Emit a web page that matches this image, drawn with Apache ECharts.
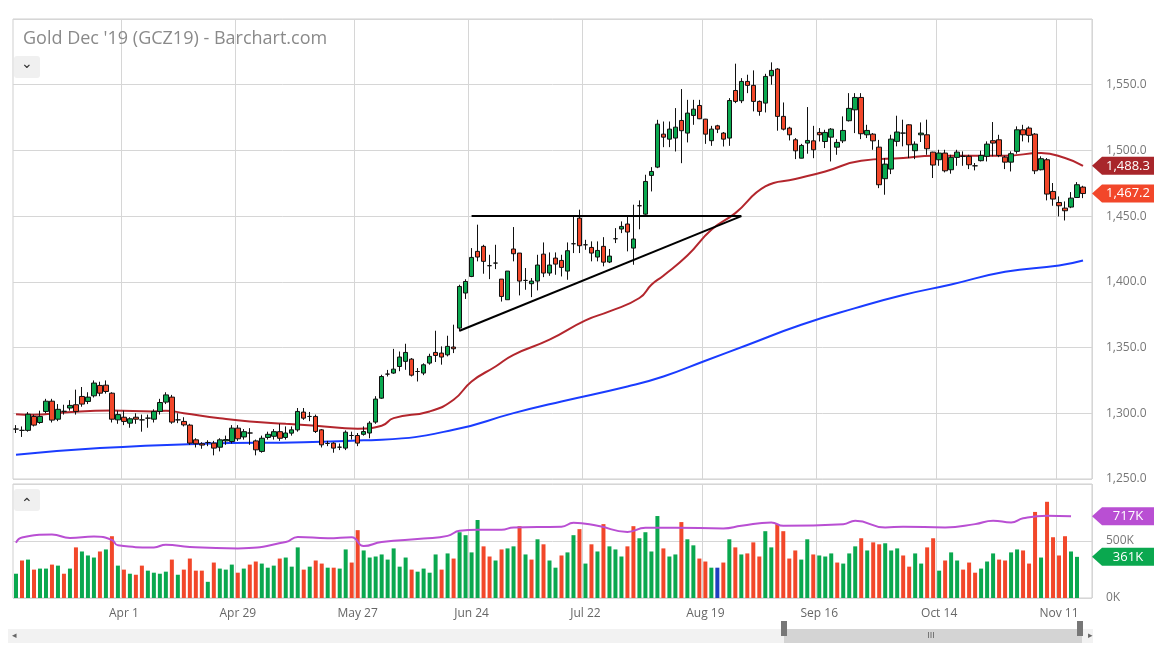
<!DOCTYPE html>
<html><head><meta charset="utf-8">
<script src="https://cdn.jsdelivr.net/npm/echarts@6/dist/echarts.min.js"></script>
<style>html,body{margin:0;padding:0;background:#fff}#c{width:1164px;height:647px}</style>
</head><body><div id="c"></div>
<script>
// ---- data ----
const startDate = "2019-03-06", endDate = "2019-11-18";
const holidays = ["2019-04-19","2019-05-27","2019-07-04","2019-09-02"];
const tickLabels = {"2019-04-01":"Apr 1","2019-04-29":"Apr 29","2019-05-28":"May 27","2019-06-24":"Jun 24","2019-07-22":"Jul 22","2019-08-19":"Aug 19","2019-09-16":"Sep 16","2019-10-14":"Oct 14","2019-11-11":"Nov 11"};
const priceTicks = [1250,1300,1350,1400,1450,1500,1550];

const opens = [1288,1287,1287,1297.6,1293,1301.4,1309.2,1295.5,1301.5,1304,1306.5,1312.8,1309,1313.3,1321.2,1321.4,1315.3,1295,1297,1292.5,1297,1295,1296.3,1295.5,1301.4,1308.5,1312.3,1295,1293.8,1291,1279.8,1276.8,1277.8,1277.3,1274.2,1279,1278.5,1288.7,1282,1285,1279,1271,1281.6,1282.5,1286,1281.6,1284.9,1287.4,1300.9,1297.6,1297.6,1287.4,1277,1277.3,1274.2,1273.5,1283.1,1283.1,1284,1285,1293.3,1311.5,1329.8,1330.6,1335.6,1339.5,1341.2,1331.8,1330.6,1338.2,1346.3,1345.8,1344.5,1350.4,1364.8,1391.5,1404.1,1423.2,1427,1412.3,1414.3,1402.1,1386.4,1425,1421.9,1401.1,1398.6,1400.6,1421.1,1406.7,1418.1,1416.3,1408.2,1429,1448.5,1428.2,1426.2,1418.9,1427,1415.1,1432.8,1440.2,1444,1425.7,1457.9,1451.5,1481,1487.3,1512.4,1508.6,1509.4,1522.8,1513.2,1526.6,1534.2,1523.8,1507.4,1518.7,1513.2,1509.4,1545.6,1537.8,1552.5,1549.5,1537.3,1536,1556.8,1561.9,1525.9,1517,1508.1,1494.1,1505.6,1507.3,1513.7,1506.8,1510.1,1502.5,1507.3,1522.6,1530.9,1540.3,1511.9,1512.4,1502.5,1478.5,1485.8,1506.9,1513.2,1519.5,1499.8,1511.9,1511.9,1498.7,1492.9,1498,1485.3,1494.7,1495.5,1495.5,1488.3,1492.2,1495.5,1507.4,1508.1,1494.9,1491.1,1499.3,1515.7,1517,1512.4,1485.3,1492.9,1468.8,1460.4,1456.1,1456.9,1464.2,1472.1];
const closes = [1288,1287,1299.3,1291,1297.6,1309.2,1294.8,1303,1301.5,1306,1301.4,1307,1312.3,1323,1315.3,1316.6,1295.5,1299,1293.8,1295.8,1295.5,1295,1296.3,1301.4,1308.2,1314,1293.3,1295,1291.2,1277.3,1276.8,1275.8,1277.8,1273.5,1279.8,1280,1288.7,1280.6,1286,1285,1272.2,1281,1284,1286,1281,1285,1287.4,1301.4,1296.3,1297.6,1286.2,1276,1277,1273.5,1274.2,1285.6,1283.1,1277.3,1286.1,1292.5,1310.8,1328,1329.8,1333.6,1342.8,1346.3,1329,1331.8,1336.9,1343.3,1344,1342.8,1350.9,1349.1,1396.5,1400.3,1418.6,1418.9,1415.6,1412.3,1414.3,1388.9,1408.2,1421.4,1400.6,1401.1,1400.6,1412.8,1406.7,1412.8,1413.5,1411,1423.7,1429,1427.5,1428.2,1421.9,1423.9,1415,1419.6,1432.8,1442.2,1437.9,1432.6,1457.9,1476.4,1484,1520,1510.1,1516.2,1517.7,1515,1528.4,1531.4,1524.1,1512.4,1516.2,1516.2,1508.6,1538,1537.3,1552.5,1549.5,1537.3,1529.7,1556.3,1560.9,1525.9,1516.2,1511.9,1499.7,1503.8,1507.6,1500.5,1511.9,1513.7,1516.2,1506.1,1515.2,1532,1540.3,1512.7,1515.2,1507.3,1473.9,1489.6,1508.6,1514,1513.2,1504.3,1504.8,1513.2,1501.3,1488.9,1498,1484.5,1494.7,1498.7,1495.5,1489.1,1488.3,1496.2,1504.8,1505.6,1496.2,1491.1,1497.5,1515.7,1511.9,1511.5,1484.5,1493.7,1466.8,1463,1457.9,1454.1,1463.7,1473.9,1467.2];
const lows = [1285,1282,1286,1290,1292,1300,1293,1294,1299,1302,1299,1305,1307,1312,1313,1315,1293,1292,1291,1289,1292,1286,1289,1293,1299,1307,1292,1292.5,1290,1276,1274,1273,1275,1268,1271,1276,1277,1279,1280,1276,1268,1270,1280,1280,1279,1280,1283,1286,1295,1294,1285,1274,1275,1270,1272,1272,1280,1275,1283,1281,1292,1311,1328,1330,1332,1333.1,1328,1324.2,1329,1337,1339,1337,1343.3,1345.8,1362.3,1387,1403.6,1415.6,1406.2,1402.1,1409.7,1385,1386.4,1415.6,1389.7,1394,1388.4,1393.5,1403.6,1404.6,1405.4,1404.1,1401.6,1421.9,1421.9,1424.4,1415.6,1415.6,1411.8,1414.3,1429.5,1437.1,1423.2,1413,1440,1451,1468.8,1486.5,1502.5,1502.5,1499.2,1490.3,1506.1,1519.5,1523.8,1505,1503.5,1513.2,1503,1503.5,1536,1536,1543.6,1529.7,1526.4,1528.9,1550,1515,1515.2,1507.6,1493.4,1494,1497.5,1494.1,1506.8,1501.8,1491.6,1496.7,1505.6,1522,1513.2,1508.6,1509.4,1500.5,1471.3,1466.3,1482,1503.1,1503.1,1494.2,1493.4,1506.4,1496.7,1479,1488.3,1483.3,1482.3,1488.3,1488.3,1485.8,1484.8,1491.6,1491.6,1495.5,1494.9,1485.8,1484,1497.5,1506.9,1506.1,1482,1484.8,1462,1457.9,1449.8,1446.7,1456.1,1464.2,1463.7];
const highs = [1291,1290,1300.9,1299,1302,1311,1311,1307,1306.5,1310,1318,1320,1316,1325,1324,1325,1316,1302,1302,1297,1300,1299,1299,1303,1311,1316,1314,1300,1297,1292,1281,1278,1279.5,1279,1281,1283,1291,1291,1288,1288.7,1280,1283,1286,1288,1292,1290,1290,1304,1304,1301,1299,1288,1279,1278,1277,1287,1286,1285,1290,1294,1313,1329.3,1333,1349,1347,1352.9,1342,1334.4,1338,1345.3,1362.8,1350.9,1359,1367.4,1397.8,1402,1425.7,1443.5,1428.2,1420.6,1428.2,1402.1,1408.2,1441.7,1421.9,1410.5,1402.9,1420.6,1430,1422.4,1422.4,1420.6,1430,1450.3,1454.9,1432,1430.8,1430.8,1434,1425,1440.9,1446,1450.3,1458.7,1462,1481.5,1487.3,1523.3,1522,1522,1532.2,1546.7,1538.5,1538.5,1538.5,1524,1518.7,1519.5,1514,1539.8,1566,1555,1557.6,1560.9,1538,1558.3,1567,1562.6,1536.5,1518,1509.4,1505,1533,1518.7,1517,1515.7,1517,1508.6,1525.9,1543.6,1543.6,1543.6,1519.5,1513.2,1508,1494.2,1511.9,1526.4,1523.4,1520,1506.9,1521.3,1523.4,1499,1500.5,1500.5,1496.7,1500.5,1499.3,1496.7,1490.4,1499.8,1506.9,1521.6,1511.9,1496,1499.3,1518.3,1519.5,1518.3,1513.2,1495.5,1494.2,1475.2,1465,1461.2,1468.3,1475.9,1473.1];
const volumes = [213,329,337,249,258,258,293,284,213,258,444,408,373,355,408,426,542,284,249,213,204,284,240,222,213,231,337,204,249,346,240,240,142,311,258,249,293,222,258,293,320,302,266,284,346,355,275,444,249,275,329,302,266,266,258,426,311,595,417,355,364,382,337,435,275,355,249,231,258,222,382,249,391,346,577,551,400,684,453,364,329,426,435,453,630,382,337,515,471,329,266,373,400,551,604,
302,471,408,648,453,426,364,453,630,524,577,408,719,435,364,382,666,515,462,346,320,266,266,311,515,444,382,391,488,364,586,444,648,586,346,417,337,515,382,373,364,391,311,302,391,453,524,417,488,471,480,417,435,373,275,391,302,444,524,240,329,400,329,249,311,222,258,320,391,337,329,400,426,417,302,755,355,844,533,373,542,408,361];
// moving averages: [bar index, value]
const ma50 = [[0,1299.3],[3,1298.8],[8,1300.6],[16,1302.1],[23,1301.4],[25,1301.9],[28,1300.1],[34,1296.3],[39,1293.8],[45,1292],[50,1290.5],[57,1288.3],[61,1290.5],[63,1296.3],[69,1301.4],[73,1310.3],[76,1324.2],[80,1335.6],[83,1344.5],[89,1356],[95,1370.7],[99,1377.5],[104,1387.7],[106,1397.8],[108,1404.7],[112,1420],[116,1439.6],[120,1452.3],[125,1472.6],[130,1478.2],[135,1484],[141,1492.1],[148,1494.2],[153,1496],[159,1496],[165,1496],[171,1498],[175,1494.2],[178,1488.3]];
const ma200 = [[0,1268.4],[14,1273.5],[31,1276.8],[48,1278],[58,1279.4],[61,1279.8],[73,1287.4],[83,1300.1],[91,1309],[102,1320.4],[108,1328],[115,1340],[122,1352],[131,1367.4],[140,1380],[148,1390],[156,1398],[165,1407.7],[174,1412.5],[178,1416.3]];
const volMa = [[0,485],[1,530],[6,556],[9,527],[13,539],[16,509],[17,462],[23,444],[25,468],[29,447],[37,435],[45,491],[47,536],[52,524],[56,533],[58,456],[61,491],[68,521],[72,545],[74,589],[77,598],[81,598],[83,619],[91,625],[93,660],[97,633],[102,580],[105,616],[110,616],[118,610],[121,633],[126,663],[128,633],[138,648],[140,678],[145,619],[148,625],[155,619],[160,648],[163,678],[166,663],[168,699],[172,722],[176,717]];
const trendFlat = [[76,1450],[121,1450]];
const trendRise = [[74,1362.8],[121,1450]];

// ---- build categories ----
const dates = [];
for (let d = new Date(startDate+"T12:00:00Z"); d <= new Date(endDate+"T12:00:00Z"); d.setUTCDate(d.getUTCDate()+1)) {
  const w = d.getUTCDay(); const s = d.toISOString().slice(0,10);
  if (w>0 && w<6 && holidays.indexOf(s)<0) dates.push(s);
}
const candles = opens.map((o,i)=>[o,closes[i],lows[i],highs[i]]);
const UP='#0aa84f', DN='#f2472a';
const volData = volumes.map((v,i)=>{
  const d = i===0 ? 0 : closes[i]-closes[i-1];
  const c = Math.abs(d)<1e-9 && i>0 ? '#1f3fbf' : (d>=0 ? '#0aa84f' : '#f2472a');
  return {value:v, itemStyle:{color:c}};
});
const toPts = a => a.map(p=>[dates[p[0]],p[1]]);
const isTick = (i,v)=>tickLabels[v]!==undefined;
const fmt = v => v.toLocaleString('en-US',{minimumFractionDigits:1,maximumFractionDigits:1});

const chart = echarts.init(document.getElementById('c'));
const font = 'Open Sans';
chart.setOption({
  animation:false,
  textStyle:{fontFamily:font},
  title:{text:"Gold Dec '19 (GCZ19) - Barchart.com",left:18,top:25,textStyle:{fontSize:18,fontWeight:'normal',color:'#8a8a8a',fontFamily:font}},
  grid:[{left:13,right:72,top:19,height:460,show:true,borderColor:'#cfcfcf',borderWidth:1},
        {left:13,right:72,top:484,height:114,show:true,borderColor:'#cfcfcf',borderWidth:1}],
  xAxis:[
    {type:'category',data:dates,gridIndex:0,boundaryGap:true,axisLine:{show:false},axisTick:{show:false},axisLabel:{show:false},
     splitLine:{show:true,interval:isTick,lineStyle:{color:'#d6d6d6'}}},
    {type:'category',data:dates,gridIndex:1,boundaryGap:true,axisLine:{show:false},axisTick:{show:false},
     axisLabel:{interval:isTick,formatter:v=>tickLabels[v]||'',color:'#666',fontSize:12,margin:10},
     splitLine:{show:true,interval:isTick,lineStyle:{color:'#d6d6d6'}}}
  ],
  yAxis:[
    {type:'value',gridIndex:0,position:'right',min:1250,max:1600,interval:50,axisLine:{show:false},axisTick:{show:false},
     axisLabel:{color:'#777',fontSize:12,margin:14,showMaxLabel:false,formatter:v=>fmt(v)},splitLine:{lineStyle:{color:'#d6d6d6'}}},
    {type:'value',gridIndex:1,position:'right',min:0,max:1000,interval:500,axisLine:{show:false},axisTick:{show:false},
     axisLabel:{color:'#777',fontSize:12,margin:14,showMaxLabel:false,formatter:v=>v+'K'},splitLine:{lineStyle:{color:'#d6d6d6'}}}
  ],
  series:[
    {type:'line',xAxisIndex:0,yAxisIndex:0,data:toPts(ma200),smooth:true,symbol:'none',lineStyle:{color:'#1a3cff',width:2},z:2},
    {type:'line',xAxisIndex:0,yAxisIndex:0,data:toPts(ma50),smooth:true,symbol:'none',lineStyle:{color:'#b3262d',width:2},z:2},
    {type:'candlestick',xAxisIndex:0,yAxisIndex:0,data:candles,barWidth:5,
     itemStyle:{color:UP,color0:DN,borderColor:'#111',borderColor0:'#111',borderWidth:1},z:3,
     markLine:{symbol:'none',silent:true,label:{show:false},lineStyle:{color:'#000',width:2,type:'solid'},
       data:[[{coord:[dates[trendFlat[0][0]],trendFlat[0][1]]},{coord:[dates[trendFlat[1][0]],trendFlat[1][1]]}],
             [{coord:[dates[trendRise[0][0]],trendRise[0][1]]},{coord:[dates[trendRise[1][0]],trendRise[1][1]]}]]}},
    {type:'bar',xAxisIndex:1,yAxisIndex:1,data:volData,barWidth:4},
    {type:'line',xAxisIndex:1,yAxisIndex:1,data:toPts(volMa),smooth:true,symbol:'none',lineStyle:{color:'#b94fd3',width:2}}
  ]
});

function tag(gi, yv, text, color){
  const y = chart.convertToPixel({yAxisIndex:gi}, yv);
  const x = 1092, w=52, h=18;
  return {type:'group',children:[
    {type:'polygon',shape:{points:[[x+10,y-h/2],[x+10+w,y-h/2],[x+10+w,y+h/2],[x+10,y+h/2],[x,y]]},style:{fill:color}},
    {type:'text',style:{text:text,x:x+12+w/2-2,y:y,align:'center',verticalAlign:'middle',fill:'#fff',fontSize:13,fontFamily:font}}
  ]};
}
chart.setOption({graphic:[
  tag(0, ma50[ma50.length-1][1], fmt(ma50[ma50.length-1][1]), '#a8262b'),
  tag(0, closes[closes.length-1], fmt(closes[closes.length-1]), '#f2472a'),
  tag(1, volMa[volMa.length-1][1], volMa[volMa.length-1][1]+'K', '#b94fd3'),
  tag(1, volumes[volumes.length-1], volumes[volumes.length-1]+'K', '#0aa84f'),
  {type:'rect',shape:{x:14,y:56,width:26,height:22,r:3},style:{fill:'#f0f0f0'}},
  {type:'text',style:{text:'⌄',x:27,y:64,align:'center',verticalAlign:'middle',fontSize:14,fill:'#333'}},
  {type:'rect',shape:{x:14,y:489,width:26,height:22,r:3},style:{fill:'#f0f0f0'}},
  {type:'text',style:{text:'⌃',x:27,y:504,align:'center',verticalAlign:'middle',fontSize:14,fill:'#333'}},
  {type:'rect',shape:{x:8,y:629,width:1085,height:14},style:{fill:'#f2f2f2'}},
  {type:'rect',shape:{x:784,y:629,width:298,height:14},style:{fill:'#d4d4d4'}},
  {type:'rect',shape:{x:781,y:621,width:6,height:15},style:{fill:'#777'}},
  {type:'rect',shape:{x:1077,y:621,width:6,height:15},style:{fill:'#777'}},
  {type:'text',style:{text:'III',x:931,y:636,align:'center',verticalAlign:'middle',fontSize:9,fill:'#666'}},
  {type:'text',style:{text:'◂',x:14,y:636,align:'center',verticalAlign:'middle',fontSize:9,fill:'#666'}},
  {type:'text',style:{text:'▸',x:1090,y:636,align:'center',verticalAlign:'middle',fontSize:9,fill:'#666'}}
]});
</script></body></html>
